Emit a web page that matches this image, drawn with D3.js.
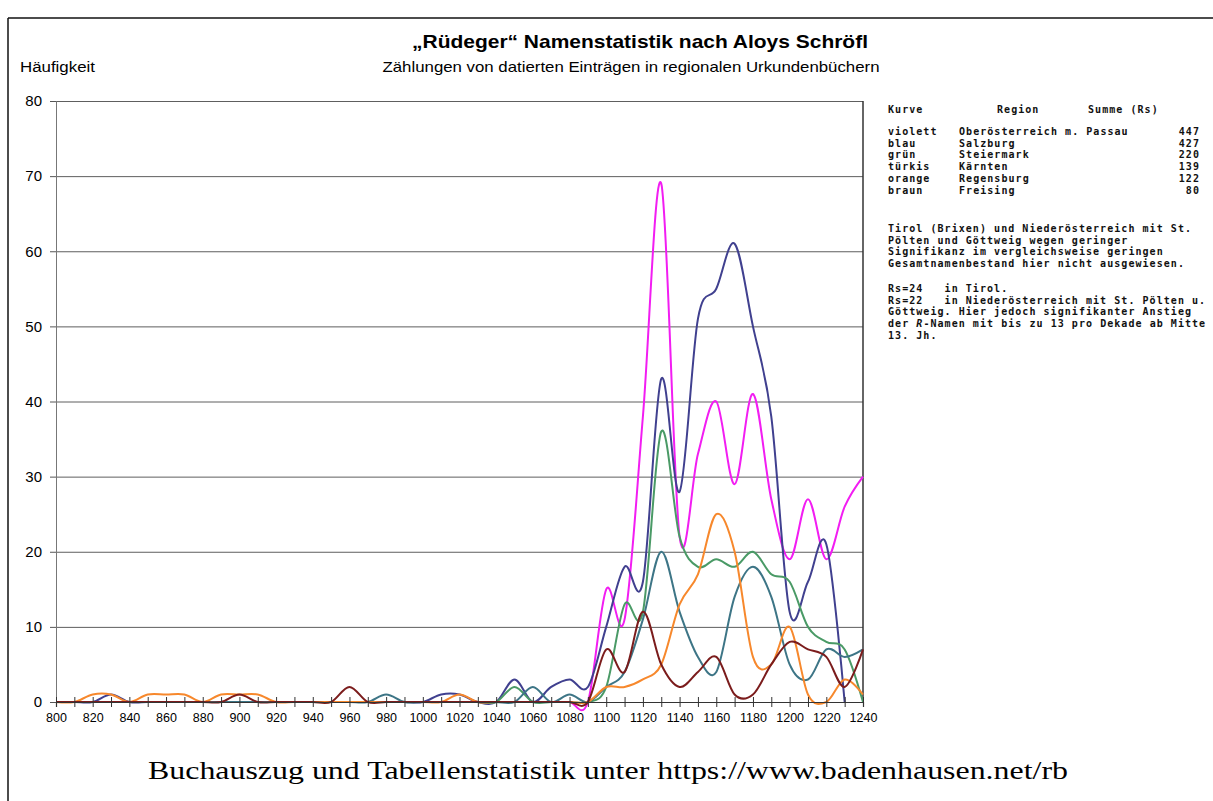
<!DOCTYPE html>
<html>
<head>
<meta charset="utf-8">
<script src="https://cdn.jsdelivr.net/npm/d3@7"></script>
<style>
  body { margin: 0; background: #fff; }
  svg { display: block; }
  text { white-space: pre; }
</style>
</head>
<body>
<div id="chart"></div>
<script>
// decades on the x axis
var years = [800, 810, 820, 830, 840, 850, 860, 870, 880, 890,
  900, 910, 920, 930, 940, 950, 960, 970, 980, 990,
  1000, 1010, 1020, 1030, 1040, 1050, 1060, 1070, 1080, 1090,
  1100, 1110, 1120, 1130, 1140, 1150, 1160, 1170, 1180, 1190,
  1200, 1210, 1220, 1230, 1240];

var yTicks = [0, 10, 20, 30, 40, 50, 60, 70, 80];

// counts per decade, one array per region
var violett = [0, 0, 0, 0, 0, 0, 0, 0, 0, 0,
  0, 0, 0, 0, 0, 0, 0, 0, 0, 0,
  0, 0, 0, 0, 0, 0, 0, 0, 0, 0,
  15, 11, 38, 69, 22, 33, 40, 29, 41, 27,
  19, 27, 19, 26, 30];
var blau = [0, 0, 0, 1, 0, 0, 0, 0, 0, 0,
  0, 0, 0, 0, 0, 0, 0, 0, 0, 0,
  0, 1, 1, 0, 0, 3, 0, 2, 3, 2,
  10, 18, 16, 43, 28, 51, 55, 61, 50, 38,
  12, 16, 21, 0, null];
var gruen = [0, 0, 0, 0, 0, 0, 0, 0, 0, 0,
  0, 0, 0, 0, 0, 0, 0, 0, 0, 0,
  0, 0, 0, 0, 0, 2, 0, 0, 0, 0,
  2, 13, 12, 36, 22, 18, 19, 18, 20, 17,
  16, 10, 8, 7, 0];
var tuerkis = [0, 0, 0, 0, 0, 0, 0, 0, 0, 0,
  0, 0, 0, 0, 0, 0, 0, 0, 1, 0,
  0, 0, 0, 0, 0, 0, 2, 0, 1, 0,
  2, 4, 11, 20, 12, 6, 4, 14, 18, 14,
  5, 3, 7, 6, 7];
var orange = [0, 0, 1, 1, 0, 1, 1, 1, 0, 1,
  1, 1, 0, 0, 0, 0, 0, 0, 0, 0,
  0, 0, 1, 0, 0, 0, 0, 0, 0, 0,
  2, 2, 3, 5, 13, 17, 25, 20, 6, 5,
  10, 1, 0, 3, 1];
var braun = [0, 0, 0, 0, 0, 0, 0, 0, 0, 0,
  1, 0, 0, 0, 0, 0, 2, 0, 0, 0,
  0, 0, 0, 0, 0, 0, 0, 0, 0, 0,
  7, 4, 12, 5, 2, 4, 6, 1, 1, 5,
  8, 7, 6, 2, 7];

var legendRows = [
  ['violett', 'Oberösterreich m. Passau', '447'],
  ['blau', 'Salzburg', '427'],
  ['grün', 'Steiermark', '220'],
  ['türkis', 'Kärnten', '139'],
  ['orange', 'Regensburg', '122'],
  ['braun', 'Freising', '80']
];
var note1 = ['Tirol (Brixen) und Niederösterreich mit St.',
  'Pölten und Göttweig wegen geringer',
  'Signifikanz im vergleichsweise geringen',
  'Gesamtnamenbestand hier nicht ausgewiesen.'];

var series = [
  {name: 'violett', values: violett, color: '#f21df2'},
  {name: 'blau', values: blau, color: '#40408f'},
  {name: 'grün', values: gruen, color: '#4a9a66'},
  {name: 'türkis', values: tuerkis, color: '#3d7586'},
  {name: 'orange', values: orange, color: '#f7882c'},
  {name: 'braun', values: braun, color: '#7b1c1c'}
];

var W = 1213, H = 801;
var svg = d3.select('#chart').append('svg')
  .attr('width', W)
  .attr('height', H);

var x = d3.scaleLinear().domain([800, 1240]).range([56, 863]);
var y = d3.scaleLinear().domain([0, 80]).range([702, 101]);

// frame
svg.append('line').attr('x1', 8).attr('x2', W).attr('y1', 18).attr('y2', 18)
  .attr('stroke', '#111').attr('stroke-width', 1.5);
svg.append('line').attr('x1', 8).attr('x2', 8).attr('y1', 18).attr('y2', H)
  .attr('stroke', '#111').attr('stroke-width', 1.5);

// titles
svg.append('text').attr('x', 640).attr('y', 48)
  .attr('text-anchor', 'middle')
  .style('font', 'bold 19px "Liberation Sans", Arial, sans-serif')
  .attr('textLength', 456).attr('lengthAdjust', 'spacingAndGlyphs')
  .text('\u201ERüdeger\u201C Namenstatistik nach Aloys Schröfl');
svg.append('text').attr('x', 631).attr('y', 72)
  .attr('text-anchor', 'middle')
  .style('font', '14.5px "Liberation Sans", Arial, sans-serif')
  .attr('textLength', 497).attr('lengthAdjust', 'spacingAndGlyphs')
  .text('Zählungen von datierten Einträgen in regionalen Urkundenbüchern');
svg.append('text').attr('x', 20).attr('y', 72)
  .style('font', '14px "Liberation Sans", Arial, sans-serif')
  .attr('textLength', 75).attr('lengthAdjust', 'spacingAndGlyphs')
  .text('Häufigkeit');

// grid
var grid = svg.append('g')
  .attr('transform', 'translate(56,0)')
  .call(d3.axisLeft(y).tickValues(yTicks.slice(1)).tickSize(-(863 - 56)).tickFormat(''));
grid.select('.domain').remove();
grid.selectAll('line').attr('stroke', '#5e5e5e').attr('stroke-width', 1);

// y axis
var yAxis = svg.append('g')
  .attr('transform', 'translate(56,0)')
  .call(d3.axisLeft(y).tickValues(yTicks).tickSize(6).tickPadding(8));
yAxis.select('.domain').attr('stroke', '#777');
yAxis.selectAll('line').attr('stroke', '#555');
yAxis.selectAll('text')
  .style('font', '15px "Liberation Sans", Arial, sans-serif')
  .attr('fill', '#000');

// right border
svg.append('line').attr('x1', 863).attr('x2', 863).attr('y1', y(80)).attr('y2', y(0))
  .attr('stroke', '#333').attr('stroke-width', 1.5);

// lines
var line = d3.line()
  .defined(function(d) { return d.v != null; })
  .x(function(d) { return x(d.year); })
  .y(function(d) { return y(d.v); })
  .curve(d3.curveCardinal.tension(0));

svg.selectAll('.serie')
  .data(series)
  .enter()
  .append('path')
  .attr('class', 'serie')
  .attr('fill', 'none')
  .attr('stroke', function(d) { return d.color; })
  .attr('stroke-width', 2)
  .attr('d', function(d) {
    return line(years.map(function(yr, i) { return {year: yr, v: d.values[i]}; }));
  });

// x axis
var xAxis = svg.append('g')
  .attr('transform', 'translate(0,' + y(0) + ')')
  .call(d3.axisBottom(x).tickValues(years).tickSize(5).tickPadding(6)
    .tickFormat(function(d) { return d % 20 === 0 ? d : ''; }));
xAxis.select('.domain').attr('stroke', '#333').attr('stroke-width', 1.2);
xAxis.selectAll('line').attr('y1', -5).attr('y2', 5).attr('stroke', '#333');
xAxis.selectAll('text')
  .style('font', '12.5px "Liberation Sans", Arial, sans-serif')
  .attr('fill', '#000');

// legend block (monospace, tight lines like the original)
var lg = svg.append('g')
  .style('font', 'bold 10px "DejaVu Sans Mono", monospace')
  .style('letter-spacing', '1.05px')
  .attr('fill', '#111');
lg.append('text').attr('x', 888).attr('y', 113).text('Kurve');
lg.append('text').attr('x', 997).attr('y', 113).text('Region');
lg.append('text').attr('x', 1088).attr('y', 113).text('Summe (Rs)');

legendRows.forEach(function(r, i) {
  var yy = 135 + i * 11.7;
  lg.append('text').attr('x', 888).attr('y', yy).text(r[0]);
  lg.append('text').attr('x', 959).attr('y', yy).text(r[1]);
  lg.append('text').attr('x', 1200).attr('y', yy).attr('text-anchor', 'end').text(r[2]);
});

note1.forEach(function(t, i) {
  lg.append('text').attr('x', 888).attr('y', 232 + i * 11.7).text(t);
});

var n2 = 292;
lg.append('text').attr('x', 888).attr('y', n2).text('Rs=24   in Tirol.');
lg.append('text').attr('x', 888).attr('y', n2 + 11.7).text('Rs=22   in Niederösterreich mit St. Pölten u.');
lg.append('text').attr('x', 888).attr('y', n2 + 23.4).text('Göttweig. Hier jedoch signifikanter Anstieg');
var t4 = lg.append('text').attr('x', 888).attr('y', n2 + 35.1);
t4.append('tspan').text('der ');
t4.append('tspan').style('font-style', 'italic').text('R');
t4.append('tspan').text('-Namen mit bis zu 13 pro Dekade ab Mitte');
lg.append('text').attr('x', 888).attr('y', n2 + 46.8).text('13. Jh.');

// footer
svg.append('text').attr('x', 608).attr('y', 779)
  .attr('text-anchor', 'middle')
  .style('font', '26px "Liberation Serif", "Times New Roman", serif')
  .attr('textLength', 920).attr('lengthAdjust', 'spacingAndGlyphs')
  .text('Buchauszug und Tabellenstatistik unter https://www.badenhausen.net/rb');
</script>
</body>
</html>
